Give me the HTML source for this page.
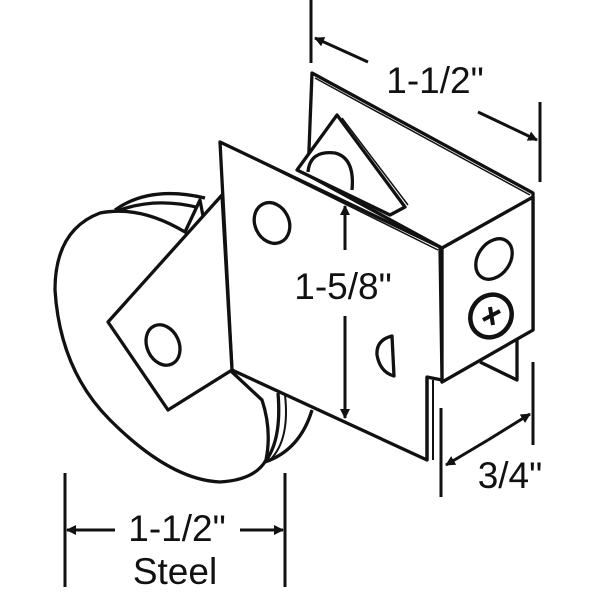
<!DOCTYPE html>
<html><head><style>html,body{margin:0;padding:0;background:#fff}svg{display:block}</style></head>
<body>
<svg width="600" height="600" viewBox="0 0 600 600" xmlns="http://www.w3.org/2000/svg">
<defs>
<marker id="ah" markerWidth="10" markerHeight="10" refX="9" refY="5" orient="auto" markerUnits="userSpaceOnUse" viewBox="0 0 10 10">
<path d="M0,0 L10,5 L0,10 z" fill="#111"/></marker>
</defs>
<g fill="#fff" stroke="#111" stroke-width="3.3" stroke-linejoin="round">
<path d="M115,210 Q150,185 205,198" fill="none"/>
<path d="M108,215 Q150,195 200,208" fill="none"/>
<path d="M278,393 Q282,440 265,462 Q300,450 312,410" />
<path d="M285,395 Q290,440 270,460" fill="none" stroke-width="2"/>
<path d="M185,232 Q140,205 100,213 Q55,230 55,290 Q60,370 110,420 Q170,480 220,482 Q255,480 266,460 Q272,430 262,400 L232,372 L200,200 Z"/>
<path d="M312,73 L533,193 L533,330 L442,382 L442,248 L308,175 Z"/>
<path d="M315,78 L530,195" fill="none" stroke-width="1.5"/>
<path d="M480,362 L517,380 L517,340" fill="none"/>
<path d="M337,115 L405,207 L390,215 L297,170 Z"/>
<path d="M342,118 L408,205" fill="none" stroke-width="1.5"/>
<path d="M308,172 Q310,150 335,153 Q355,158 352,190" />
<path d="M442,248 L533,197 L533,330 L442,382 Z"/>
<path d="M220,142 L440,247 L442,380 L427,377 L427,460 L232,370 Z"/>
<path d="M224,144 L438,250" fill="none" stroke-width="1.5"/>
<path d="M427,377 L427,460" />
<path d="M433,380 L433,460" fill="none" stroke-width="2"/>
<path d="M222,195 L108,322 L168,410 L232,370 Z"/>
<ellipse cx="272" cy="223" rx="17" ry="21" transform="rotate(-25 272 223)"/>
<ellipse cx="163" cy="345" rx="16" ry="21" transform="rotate(-25 163 345)"/>
<ellipse cx="494" cy="259" rx="16" ry="22" transform="rotate(35 494 259)"/>
<ellipse cx="491" cy="316" rx="20" ry="22" transform="rotate(35 491 316)" stroke-width="4.5"/>
<path d="M483,320 L500,311 M490,307 L493,325" stroke-width="4" fill="none"/>
<path d="M392,336 Q376,340 377,355 Q380,372 394,376 Z" />
</g>
<g stroke="#111" stroke-width="3" fill="none">
<line x1="311" y1="0" x2="311" y2="63"/>
<line x1="368" y1="62" x2="315" y2="38" marker-end="url(#ah)"/>
<line x1="540" y1="102" x2="540" y2="182"/>
<line x1="478" y1="112" x2="537" y2="140" marker-end="url(#ah)"/>
<line x1="345" y1="250" x2="345" y2="206" marker-end="url(#ah)"/>
<line x1="345" y1="316" x2="345" y2="418" marker-end="url(#ah)"/>
<line x1="441" y1="408" x2="441" y2="497"/>
<line x1="533" y1="362" x2="533" y2="445"/>
<line x1="488" y1="440" x2="446" y2="465" marker-end="url(#ah)"/>
<line x1="488" y1="440" x2="530" y2="414" marker-end="url(#ah)"/>
<line x1="65" y1="473" x2="65" y2="587"/>
<line x1="285" y1="473" x2="285" y2="587"/>
<line x1="115" y1="530" x2="67" y2="530" marker-end="url(#ah)"/>
<line x1="240" y1="530" x2="283" y2="530" marker-end="url(#ah)"/>
</g>
<g font-family="Liberation Sans, sans-serif" font-size="37" fill="#111">
<text x="435" y="93" text-anchor="middle">1-1/2"</text>
<text x="343" y="299" text-anchor="middle">1-5/8"</text>
<text x="510" y="488" text-anchor="middle">3/4"</text>
<text x="177" y="541" text-anchor="middle">1-1/2"</text>
<text x="175" y="584" text-anchor="middle">Steel</text>
</g>
</svg>
</body></html>
